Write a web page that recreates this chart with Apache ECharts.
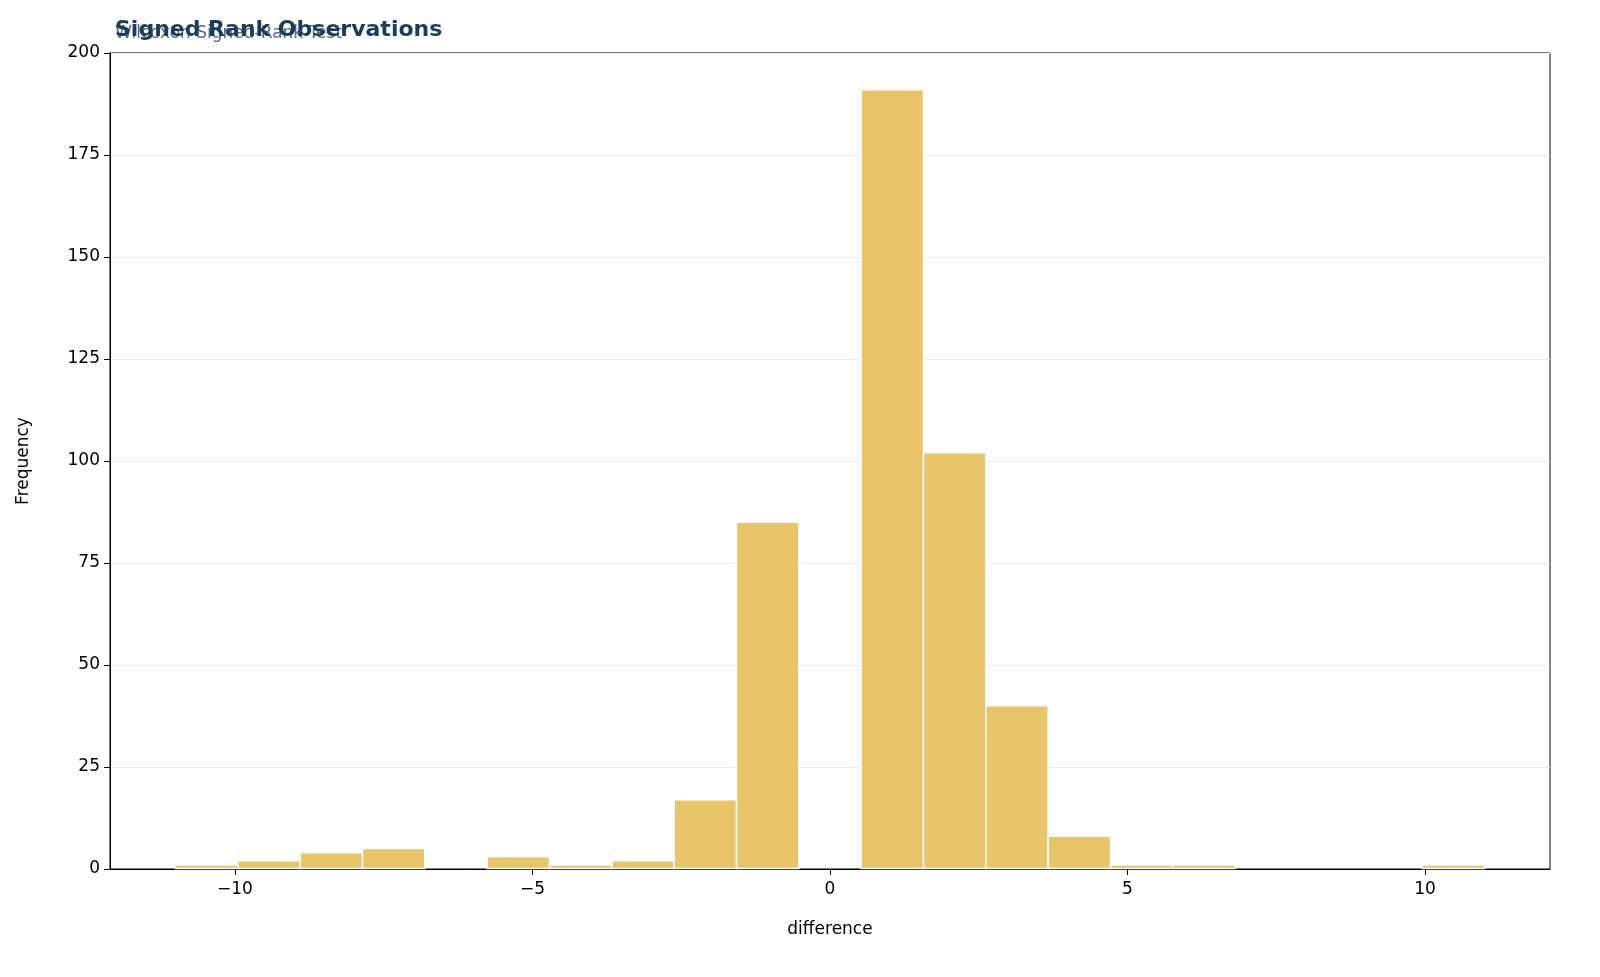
<!DOCTYPE html>
<html><head><meta charset="utf-8">
<script src="https://cdn.jsdelivr.net/npm/echarts@6/dist/echarts.min.js"></script>
<style>html,body{margin:0;padding:0;background:#fff}#c{width:1600px;height:977px}</style>
</head><body><div id="c"></div>
<script>
const binStart = -11;
const binEnd = 11;
const counts = [1, 2, 4, 5, 0, 3, 1, 2, 17, 85, 0, 191, 102, 40, 8, 1, 1, 0, 0, 0, 1];
const xTicks = [-10, -5, 0, 5, 10];
const yTicks = [0, 25, 50, 75, 100, 125, 150, 175, 200];

const w = (binEnd - binStart) / counts.length;
const data = counts.map((c, i) => [binStart + i * w, binStart + (i + 1) * w, c]);
const chart = echarts.init(document.getElementById('c'));
const font = 'DejaVu Sans';
chart.setOption({
  animation: false,
  textStyle: {fontFamily: font},
  title: [
    {text: 'Wilcoxon Signed-Rank Test', left: 110, top: 20, textStyle: {fontFamily: font, fontSize: 17, fontWeight: 'normal', color: '#5a6a78'}},
    {text: 'Signed Rank Observations', left: 110, top: 14, textStyle: {fontFamily: font, fontSize: 22, fontWeight: 'bold', color: '#1b3d5c'}}
  ],
  grid: {left: 110, right: 50, top: 53, bottom: 108, show: true, borderColor: '#000', borderWidth: 1, backgroundColor: 'transparent'},
  xAxis: {
    type: 'value', min: -12.1, max: 12.1,
    name: 'difference', nameLocation: 'middle', nameGap: 52,
    nameTextStyle: {fontSize: 17, color: '#000'},
    axisLine: {show: true, onZero: false, lineStyle: {color: '#000'}},
    axisTick: {show: true, customValues: xTicks, length: 6, lineStyle: {color: '#000'}},
    axisLabel: {customValues: xTicks, fontSize: 17, color: '#000', margin: 12,
      formatter: v => (v < 0 ? '\u2212' + Math.abs(v) : String(v))},
    splitLine: {show: false}
  },
  yAxis: {
    type: 'value', min: 0, max: 200, interval: 25,
    name: 'Frequency', nameLocation: 'middle', nameGap: 78,
    nameTextStyle: {fontSize: 17, color: '#000'},
    axisLine: {show: true, onZero: false, lineStyle: {color: '#000'}},
    axisTick: {show: true, length: 6, lineStyle: {color: '#000'}},
    axisLabel: {fontSize: 17, color: '#000', margin: 10},
    splitLine: {show: true, lineStyle: {color: '#ebebeb'}}
  },
  series: [{
    type: 'custom',
    data: data,
    z: 1,
    encode: {x: [0, 1], y: 2},
    renderItem: function (params, api) {
      if (!api.value(2)) return null;
      const a = api.coord([api.value(0), api.value(2)]);
      const b = api.coord([api.value(1), 0]);
      return {type: 'rect', shape: {x: a[0], y: a[1], width: b[0] - a[0], height: b[1] - a[1] - 0.5},
        style: {fill: '#e8c46b', stroke: '#ffffff', lineWidth: 1.5}};
    }
  }]
});
</script></body></html>
